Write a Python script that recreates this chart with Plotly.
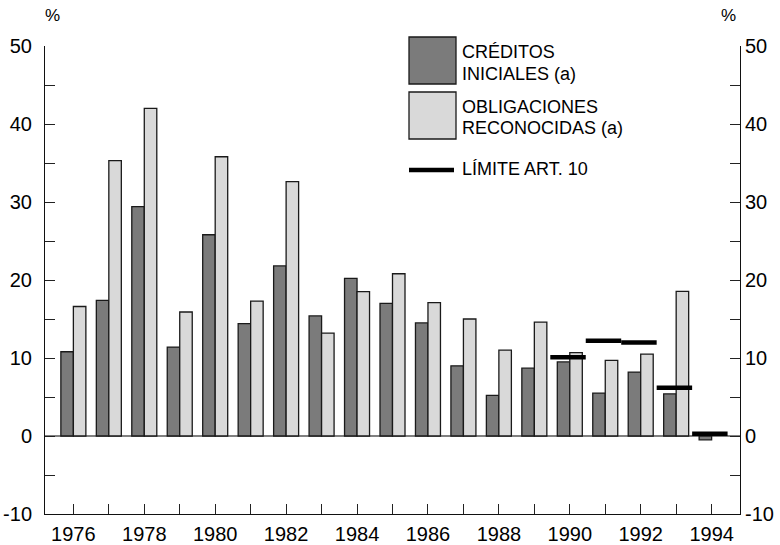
import plotly.graph_objects as go

years = list(range(1976, 1995))
creditos = [10.8, 17.4, 29.4, 11.4, 25.8, 14.4, 21.8, 15.4, 20.2, 17.0,
            14.5, 9.0, 5.2, 8.7, 9.5, 5.5, 8.2, 5.4, -0.5]
obligaciones = [16.6, 35.3, 42.0, 15.9, 35.8, 17.3, 32.6, 13.2, 18.5, 20.8,
                17.1, 15.0, 11.0, 14.6, 10.7, 9.7, 10.5, 18.55, None]
limite_years = [1990, 1991, 1992, 1993, 1994]
limite = [10.1, 12.2, 12.0, 6.2, 0.3]
tick_labels = [str(y) if y % 2 == 0 else "" for y in years]

W, H = 780, 545
L, R, T, B = 45, 740, 46, 514
FONT = "Liberation Sans, Arial, sans-serif"

def px(x):
    return (x - L) / (R - L)

def py(y):
    return (B - y) / (B - T)

fig = go.Figure()
fig.add_trace(go.Bar(x=years, y=creditos, name="CRÉDITOS INICIALES (a)",
                     marker=dict(color="#7b7b7b", line=dict(color="#1a1a1a", width=1.3)),
                     showlegend=False))
fig.add_trace(go.Bar(x=years, y=obligaciones, name="OBLIGACIONES RECONOCIDAS (a)",
                     marker=dict(color="#d9d9d9", line=dict(color="#1a1a1a", width=1.3)),
                     showlegend=False))

lx, ly = [], []
for yr, v in zip(limite_years, limite):
    lx += [yr - 0.55, yr + 0.45, None]
    ly += [v, v, None]
fig.add_trace(go.Scatter(x=lx, y=ly, mode="lines", name="LÍMITE ART. 10",
                         line=dict(color="black", width=4.5), yaxis="y2",
                         showlegend=False, connectgaps=False))

axis_common = dict(range=[-10, 50], tickvals=list(range(-10, 55, 5)),
                   ticktext=[str(v) if v % 10 == 0 else "" for v in range(-10, 55, 5)],
                   ticks="inside", ticklen=10, tickcolor="#222", tickwidth=1,
                   showline=True, linecolor="#111", linewidth=1, automargin=False,
                   showgrid=False, tickfont=dict(size=20, color="black", family=FONT))

fig.update_layout(
    width=W, height=H,
    margin=dict(l=L, r=W - R, t=T, b=H - B, pad=0),
    paper_bgcolor="white", plot_bgcolor="white",
    barmode="group", bargap=0.295, bargroupgap=0,
    font=dict(family=FONT, color="black"),
    xaxis=dict(range=[1975.2, 1994.8], tickvals=years, ticktext=tick_labels,
               ticks="inside", ticklen=10, tickcolor="#222", tickwidth=1,
               showline=True, linecolor="#111", linewidth=1, mirror=False,
               showgrid=False, zeroline=False, automargin=False,
               ticklabelstandoff=2,
               tickfont=dict(size=20, color="black", family=FONT)),
    yaxis=dict(**axis_common, zeroline=True, zerolinecolor="#808080", zerolinewidth=2,
               ticklabelstandoff=8),
    yaxis2=dict(**axis_common, overlaying="y", side="right", zeroline=False,
                ticklabelstandoff=0),
    showlegend=False,
)

# manual legend
shapes = [
    dict(type="rect", xref="paper", yref="paper", x0=px(409), x1=px(456), y0=py(84), y1=py(37),
         fillcolor="#7b7b7b", line=dict(color="#1a1a1a", width=1.3)),
    dict(type="rect", xref="paper", yref="paper", x0=px(409), x1=px(456), y0=py(139), y1=py(92),
         fillcolor="#d9d9d9", line=dict(color="#1a1a1a", width=1.3)),
    dict(type="line", xref="paper", yref="paper", x0=px(409), x1=px(454), y0=py(170), y1=py(170),
         line=dict(color="black", width=4.5)),
]
fig.update_layout(shapes=shapes)

texts = [("CRÉDITOS", 52), ("INICIALES (a)", 73.5), ("OBLIGACIONES", 106.5),
         ("RECONOCIDAS (a)", 128), ("LÍMITE ART. 10", 169.5)]
for t, yy in texts:
    fig.add_annotation(text=t, xref="paper", yref="paper", x=px(461), y=py(yy),
                       xanchor="left", yanchor="middle", showarrow=False, borderpad=0,
                       font=dict(size=18, color="black", family=FONT))

fig.add_annotation(text="%", xref="paper", yref="paper", x=px(52), y=py(15),
                   xanchor="center", yanchor="middle", showarrow=False,
                   font=dict(size=17, color="black", family=FONT))
fig.add_annotation(text="%", xref="paper", yref="paper", x=px(728), y=py(15),
                   xanchor="center", yanchor="middle", showarrow=False,
                   font=dict(size=17, color="black", family=FONT))

fig.write_html("out.html", config={"displayModeBar": False},
               post_script="document.body.style.margin='0';document.body.style.overflow='hidden';")
